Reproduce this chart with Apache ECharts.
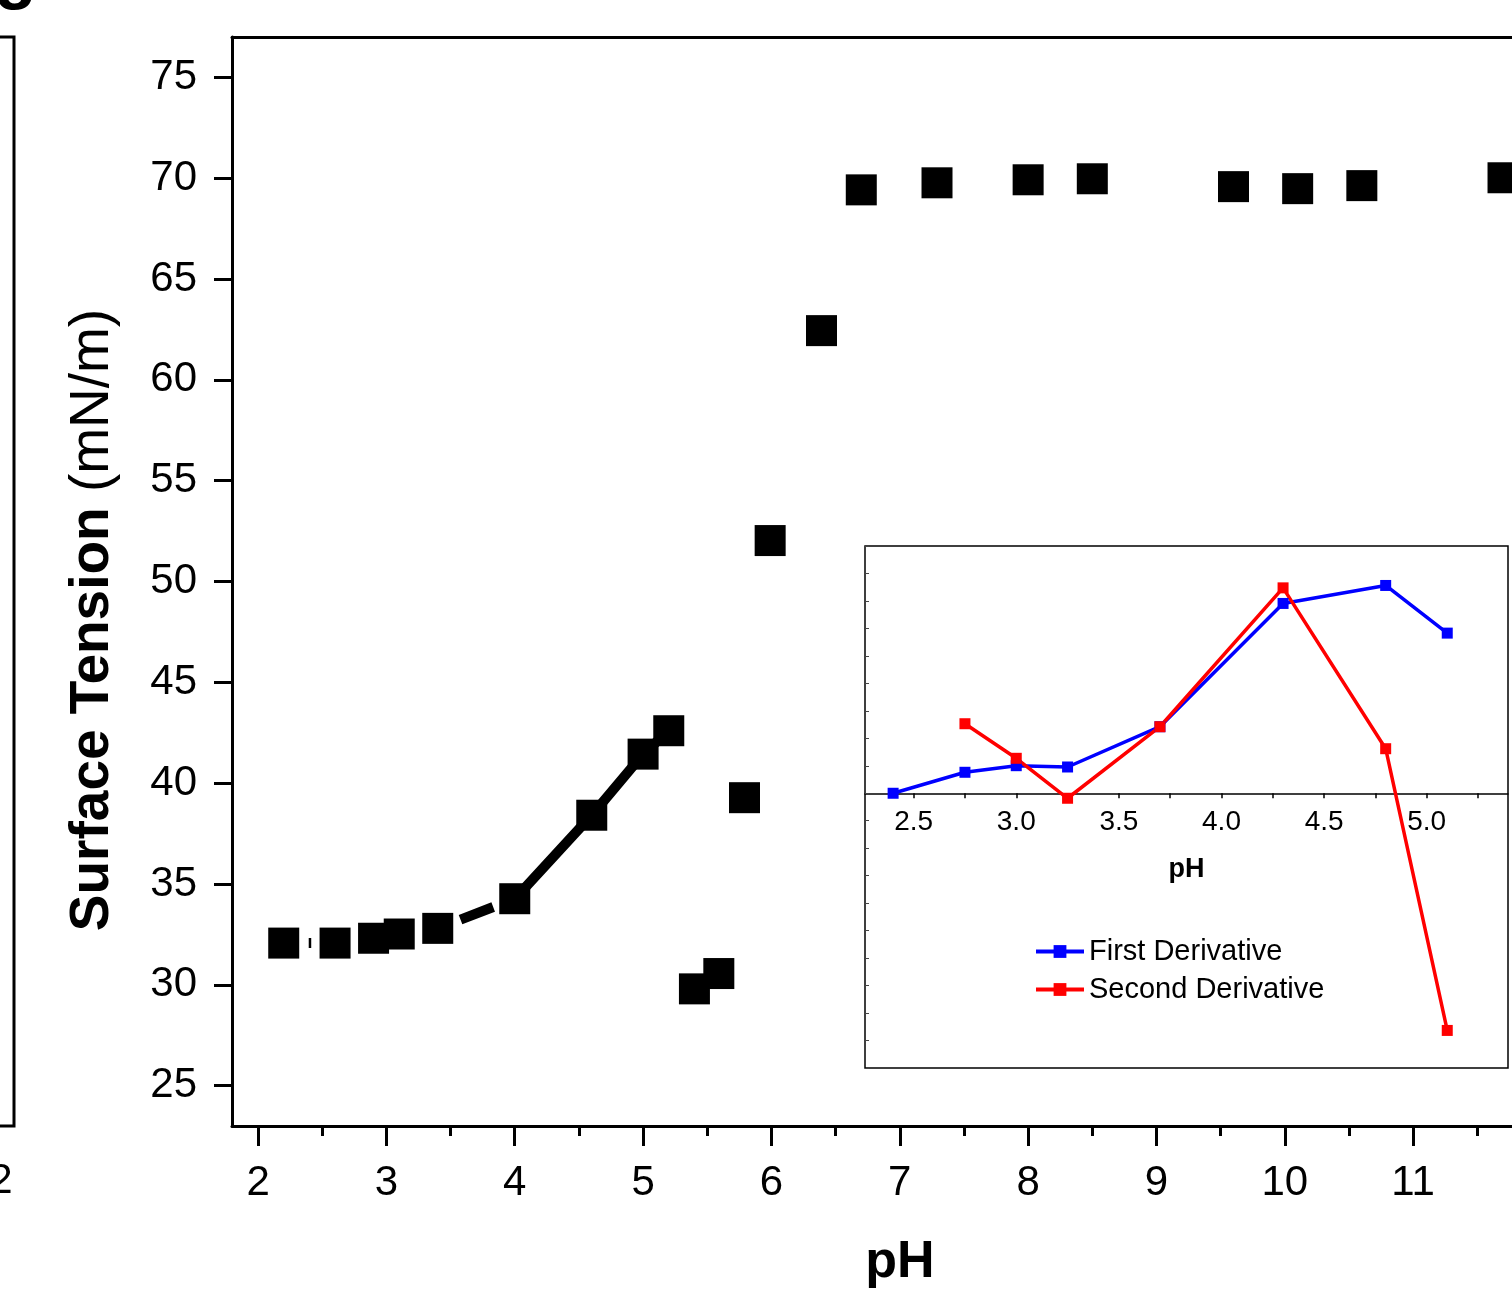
<!DOCTYPE html>
<html>
<head>
<meta charset="utf-8">
<script src="https://cdn.jsdelivr.net/npm/echarts@6/dist/echarts.min.js"></script>
<style>html,body{margin:0;padding:0;background:#fff}#c{width:1512px;height:1293px}</style>
</head>
<body>
<div id="c"></div>
<script>
// Main data: surface tension vs pH
var phValues = [2.20, 2.60, 2.90, 3.10, 3.40, 4.00, 4.60, 5.00, 5.20, 5.40, 5.59, 5.79, 5.99, 6.39, 6.70, 7.29, 8.00, 8.50, 9.60, 10.10, 10.60, 11.70];
var tensionValues = [32.07, 32.07, 32.31, 32.52, 32.80, 34.27, 38.41, 41.44, 42.60, 29.80, 30.56, 39.28, 52.03, 62.44, 69.42, 69.77, 69.92, 69.97, 69.58, 69.48, 69.63, 70.02];
// dashed guide line through the low-pH points
var fitCount = 9;
// Inset: derivatives (arbitrary units)
var insetPH1 = [2.40, 2.75, 3.00, 3.25, 3.70, 4.30, 4.80, 5.10];
var firstDeriv = [0.0, 2.10, 2.76, 2.63, 6.66, 19.0, 20.8, 16.03];
var insetPH2 = [2.75, 3.00, 3.25, 3.70, 4.30, 4.80, 5.10];
var secondDeriv = [6.96, 3.50, -0.50, 6.66, 20.56, 4.46, -23.74];
// tick labels
var mainXTicks = [2, 3, 4, 5, 6, 7, 8, 9, 10, 11];
var mainXMinor = [2.5, 3.5, 4.5, 5.5, 6.5, 7.5, 8.5, 9.5, 10.5, 11.5];
var mainYTicks = [25, 30, 35, 40, 45, 50, 55, 60, 65, 70, 75];
var mainYMinor = [27.5, 32.5, 37.5, 42.5, 47.5, 52.5, 57.5, 62.5, 67.5, 72.5];
var insetXTicks = [2.5, 3.0, 3.5, 4.0, 4.5, 5.0];
var insetXAllTicks = [2.5, 2.75, 3.0, 3.25, 3.5, 3.75, 4.0, 4.25, 4.5, 4.75, 5.0, 5.25];
var insetYMin = -27.5, insetYMax = 24.75;

var FONT = '"Liberation Sans", Arial, sans-serif';
function pairs(xs, ys) { return xs.map(function (x, i) { return [x, ys[i]]; }); }
var mainPts = pairs(phValues, tensionValues);
var fitPts = mainPts.slice(0, fitCount);

var insetH = 522;
// move the inset x axis line up to y = 0 of the inset value axis
var insetXOffset = -insetH * (0 - insetYMin) / (insetYMax - insetYMin);

var chart = echarts.init(document.getElementById('c'), null, { renderer: 'canvas' });
chart.setOption({
  backgroundColor: '#fff',
  animation: false,
  textStyle: { fontFamily: FONT },
  grid: [
    { left: 232, top: 37, width: 1280, height: 1089, containLabel: false },
    { left: 865, top: 546, width: 643, height: insetH, show: true, backgroundColor: '#fff', borderColor: '#000', borderWidth: 1.5, z: 10 }
  ],
  xAxis: [
    { gridIndex: 0, type: 'value', min: 1.797, max: 11.77, position: 'bottom',
      axisLine: { onZero: false, lineStyle: { color: '#000', width: 3 } },
      axisTick: { customValues: mainXTicks, length: 20, lineStyle: { color: '#000', width: 3 } },
      axisLabel: { customValues: mainXTicks, fontSize: 42, color: '#000', margin: 36, fontFamily: FONT },
      splitLine: { show: false } },
    { gridIndex: 0, type: 'value', min: 1.797, max: 11.77, position: 'bottom',
      axisLine: { show: false, onZero: false },
      axisTick: { show: true, customValues: mainXMinor, length: 10, lineStyle: { color: '#000', width: 3 } },
      axisLabel: { show: false }, splitLine: { show: false } },
    { gridIndex: 0, type: 'value', min: 1.797, max: 11.77, position: 'top',
      axisLine: { onZero: false, lineStyle: { color: '#000', width: 3 } },
      axisTick: { show: false }, axisLabel: { show: false }, splitLine: { show: false } },
    { gridIndex: 1, type: 'value', min: 2.263, max: 5.396, position: 'bottom', offset: insetXOffset, z: 11,
      axisLine: { onZero: false, lineStyle: { color: '#000', width: 1.5 } },
      axisTick: { customValues: insetXAllTicks, length: 5, lineStyle: { color: '#000', width: 1.5 } },
      axisLabel: { customValues: insetXTicks, fontSize: 28, color: '#000', margin: 15, fontFamily: FONT,
        formatter: function (v) { return v.toFixed(1); } },
      splitLine: { show: false },
      name: 'pH', nameLocation: 'middle', nameGap: 63,
      nameTextStyle: { fontSize: 27, fontWeight: 'bold', color: '#000', fontFamily: FONT } }
  ],
  yAxis: [
    { gridIndex: 0, type: 'value', min: 23, max: 77,
      axisLine: { onZero: false, lineStyle: { color: '#000', width: 3 } },
      axisTick: { customValues: mainYTicks, length: 18, lineStyle: { color: '#000', width: 3 } },
      axisLabel: { customValues: mainYTicks, fontSize: 42, color: '#000', margin: 35, fontFamily: FONT },
      splitLine: { show: false } },
    { gridIndex: 0, type: 'value', min: 23, max: 77,
      axisLine: { show: false, onZero: false },
      axisTick: { show: true, customValues: mainYMinor, length: 9, lineStyle: { color: '#000', width: 3 } },
      axisLabel: { show: false }, splitLine: { show: false } },
    { gridIndex: 1, type: 'value', min: insetYMin, max: insetYMax, interval: 2.75, z: 11,
      axisLine: { show: false, onZero: false },
      axisTick: { show: true, inside: true, length: 4, lineStyle: { color: '#444', width: 1 } },
      axisLabel: { show: false }, splitLine: { show: false } }
  ],
  legend: {
    data: ['First Derivative', 'Second Derivative'],
    orient: 'vertical', left: 1029, top: 932,
    itemWidth: 48, itemHeight: 16, itemGap: 9,
    lineStyle: { width: 4 },
    textStyle: { fontSize: 29, color: '#000', fontFamily: FONT, lineHeight: 29 },
    z: 20
  },
  series: [
    { name: 'fit', type: 'line', xAxisIndex: 0, yAxisIndex: 0, data: fitPts, symbol: 'none',
      lineStyle: { color: '#000', width: 10, type: [0.1, 24.9, 2.5, 152, 35, 38, 1000, 10], cap: 'butt' }, z: 2, silent: true },
    { name: 'Surface Tension', type: 'scatter', xAxisIndex: 0, yAxisIndex: 0, data: mainPts,
      symbol: 'rect', symbolSize: 31, itemStyle: { color: '#000', opacity: 1 }, z: 3 },
    { name: 'First Derivative', type: 'line', xAxisIndex: 3, yAxisIndex: 2, data: pairs(insetPH1, firstDeriv),
      symbol: 'rect', symbolSize: 11, showAllSymbol: true,
      lineStyle: { color: '#0000FF', width: 3.5 }, itemStyle: { color: '#0000FF' }, z: 12 },
    { name: 'Second Derivative', type: 'line', xAxisIndex: 3, yAxisIndex: 2, data: pairs(insetPH2, secondDeriv),
      symbol: 'rect', symbolSize: 11, showAllSymbol: true,
      lineStyle: { color: '#FF0000', width: 3.5 }, itemStyle: { color: '#FF0000' }, z: 12 }
  ],
  graphic: [
    { type: 'text', x: 93, y: 620, rotation: Math.PI / 2,
      style: { text: '{b|Surface Tension }{n|(mN/m)}', align: 'center', verticalAlign: 'middle',
        rich: { b: { fontSize: 55, fontWeight: 'bold', fontFamily: FONT, fill: '#000' },
                n: { fontSize: 55, fontFamily: FONT, fill: '#000' } } } },
    { type: 'text', x: 900, y: 1263,
      style: { text: 'pH', fontSize: 52, fontWeight: 'bold', fontFamily: FONT, fill: '#000', align: 'center', verticalAlign: 'middle' } },
    { type: 'polyline', shape: { points: [[0, 37], [14, 37], [14, 1126], [0, 1126]] },
      style: { stroke: '#000', lineWidth: 3, fill: null } },
    { type: 'text', x: 1, y: 1181,
      style: { text: '2', fontSize: 42, fontFamily: FONT, fill: '#000', align: 'center', verticalAlign: 'middle' } },
    { type: 'text', x: -6, y: -24,
      style: { text: 'g', fontSize: 70, fontWeight: 'bold', fontFamily: FONT, fill: '#000', align: 'left', verticalAlign: 'middle' } }
  ]
});
</script>
</body>
</html>
